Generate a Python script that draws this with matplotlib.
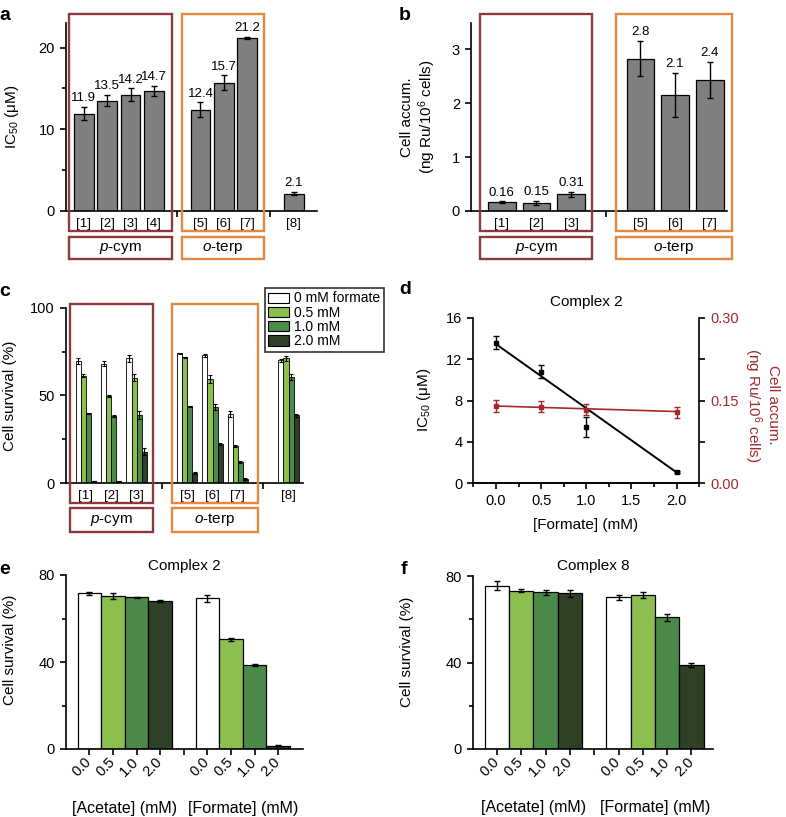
import numpy as np
import matplotlib.pyplot as plt
from matplotlib.patches import Rectangle, Patch
from matplotlib.ticker import MultipleLocator
import matplotlib.transforms as mtrans

plt.rcParams['font.family'] = 'Liberation Sans'
plt.rcParams['mathtext.fontset'] = 'custom'
plt.rcParams['mathtext.rm'] = 'Liberation Sans'
plt.rcParams['mathtext.it'] = 'Liberation Sans:italic'
plt.rcParams['mathtext.bf'] = 'Liberation Sans:bold'
plt.rcParams['axes.linewidth'] = 1.2

# ---- data ----
# a: IC50 of complexes
a_labels = ['[1]', '[2]', '[3]', '[4]', '[5]', '[6]', '[7]', '[8]']
a_groups = [4, 3, 1]
a_ic50 = [11.9, 13.5, 14.2, 14.7, 12.4, 15.7, 21.2, 2.1]
a_err = [0.8, 0.7, 0.8, 0.6, 0.9, 0.9, 0.1, 0.2]

# b: cell accumulation
b_labels = ['[1]', '[2]', '[3]', '[5]', '[6]', '[7]']
b_groups = [3, 3]
b_accum = [0.16, 0.15, 0.31, 2.83, 2.15, 2.43]
b_err = [0.02, 0.04, 0.05, 0.33, 0.41, 0.34]
b_text = ['0.16', '0.15', '0.31', '2.8', '2.1', '2.4']

# c: cell survival with formate
c_labels = ['[1]', '[2]', '[3]', '[5]', '[6]', '[7]', '[8]']
c_groups = [3, 3, 1]
c_series = ['0 mM formate', '0.5 mM', '1.0 mM', '2.0 mM']
c_0mM = [69.6, 68.1, 71.2, 74.0, 72.9, 39.5, 70.0]
c_05mM = [61.3, 49.9, 60.2, 71.9, 59.4, 21.1, 71.2]
c_10mM = [39.8, 38.3, 38.9, 44.0, 43.5, 12.0, 60.5]
c_20mM = [1.3, 1.3, 18.0, 5.9, 22.4, 2.5, 38.7]
c_0mM_err = [1.5, 1.5, 2.0, 0.3, 0.8, 1.5, 1.0]
c_05mM_err = [1.0, 0.6, 2.0, 0.3, 2.5, 0.6, 1.5]
c_10mM_err = [0.4, 0.4, 2.0, 0.3, 1.5, 0.5, 1.5]
c_20mM_err = [0.2, 0.2, 2.0, 0.5, 0.7, 0.5, 1.0]

# d: complex 2 vs formate
d_formate = [0.0, 0.5, 1.0, 2.0]
d_ic50 = [13.6, 10.8, 5.45, 1.05]
d_ic50_err = [0.6, 0.6, 1.0, 0.1]
d_accum = [0.140, 0.139, 0.133, 0.129]
d_accum_err = [0.010, 0.010, 0.010, 0.010]
d_fit_x = [0.0, 2.0]
d_ic50_fit = [13.45, 1.05]
d_accum_fit = [0.140, 0.130]

# e, f: acetate vs formate
ef_conc = ['0.0', '0.5', '1.0', '2.0']
e_acetate = [71.6, 70.3, 69.7, 68.0]
e_acetate_err = [0.6, 1.2, 0.4, 0.5]
e_formate = [69.3, 50.4, 38.8, 1.5]
e_formate_err = [1.5, 0.8, 0.5, 0.2]
f_acetate = [75.5, 73.2, 72.4, 72.0]
f_acetate_err = [2.0, 0.7, 1.2, 1.5]
f_formate = [70.1, 71.3, 60.9, 38.8]
f_formate_err = [1.0, 1.5, 1.5, 1.0]

# ---- style ----
W, H = 786, 817
GRAY = '#7f7f7f'
GREENS = ['white', '#8cbf4f', '#4b8a48', '#2e4025']
BOXRED = '#8b3a3e'
BOXORANGE = '#e2893f'
RED = '#a3292c'
TICK = 10.5
LAB = 11

fig = plt.figure(figsize=(W / 100, H / 100), dpi=100)


def add_ax(x0, y0, x1, y1):
    return fig.add_axes([x0 / W, 1 - y1 / H, (x1 - x0) / W, (y1 - y0) / H])


def ftext(x, y, s, **kw):
    fig.text(x / W, 1 - y / H, s, **kw)


def fbox(x0, y0, x1, y1, color):
    fig.add_artist(Rectangle((x0 / W, 1 - y1 / H), (x1 - x0) / W, (y1 - y0) / H,
                             transform=fig.transFigure, fill=False, ec=color, lw=1.7))


def group_pos(sizes):
    pos, gaps, p = [], [], 0
    for i, n in enumerate(sizes):
        pos += list(range(p, p + n))
        p += n
        if i < len(sizes) - 1:
            gaps.append(p)
        p += 1
    return np.array(pos, float), gaps


def style(ax):
    ax.spines['top'].set_visible(False)
    ax.spines['right'].set_visible(False)
    ax.tick_params(axis='y', which='both', direction='out', width=1.2, labelsize=TICK)
    ax.tick_params(axis='y', which='major', length=4.5)
    ax.tick_params(axis='y', which='minor', length=3)


def cat_axis(ax, pos, labels, gaps):
    ax.set_xticks(pos)
    ax.set_xticklabels(labels, fontsize=9.5)
    ax.tick_params(axis='x', which='major', length=0, pad=5)
    ax.set_xticks(gaps, minor=True)
    ax.tick_params(axis='x', which='minor', direction='out', length=4, width=1.2)


def group_boxes(xs, y0, y1, ly0, ly1):
    names = ['$p$-cym', '$o$-terp']
    for (x0, x1), col, name in zip(xs, [BOXRED, BOXORANGE], names):
        fbox(x0, y0, x1, y1, col)
        fbox(x0, ly0, x1, ly1, col)
        ftext((x0 + x1) / 2, (ly0 + ly1) / 2, name, ha='center', va='center', fontsize=11)


err_kw = dict(elinewidth=1.0, capthick=1.0)

# ---- panel a ----
ax = add_ax(66, 23, 317, 211)
style(ax)
pos, gaps = group_pos(a_groups)
ax.bar(pos, a_ic50, 0.85, color=GRAY, ec='black', lw=0.9, yerr=a_err, capsize=2.2, error_kw=err_kw)
for x, v, e in zip(pos, a_ic50, a_err):
    ax.annotate(f'{v}', (x, v + e), xytext=(0, 2), textcoords='offset points',
                ha='center', va='bottom', fontsize=9.5)
ax.set_xlim(-0.77, 10)
ax.set_ylim(0, 23)
ax.set_yticks([0, 10, 20])
ax.yaxis.set_minor_locator(MultipleLocator(5))
cat_axis(ax, pos, a_labels, gaps)
group_boxes([(69, 172), (182, 264)], 14, 231, 237, 259)
ftext(12, 117, r'IC$_{50}$ (μM)', rotation=90, ha='center', va='center', fontsize=LAB)

# ---- panel b ----
ax = add_ax(471, 23, 727, 211)
style(ax)
pos, gaps = group_pos(b_groups)
ax.bar(pos, b_accum, 0.8, color=GRAY, ec='black', lw=0.9, yerr=b_err, capsize=2.2, error_kw=err_kw)
for x, v, e, t in zip(pos, b_accum, b_err, b_text):
    ax.annotate(t, (x, v + e), xytext=(0, 2), textcoords='offset points',
                ha='center', va='bottom', fontsize=9.5)
ax.set_xlim(-0.89, 6.5)
ax.set_ylim(0, 3.49)
ax.set_yticks([0, 1, 2, 3])
cat_axis(ax, pos, b_labels, gaps)
group_boxes([(480, 592), (616, 732)], 14, 231, 237, 259)
ftext(419, 117, 'Cell accum.\n(ng Ru/10$^6$ cells)', rotation=90, ha='center', va='center',
      fontsize=LAB, linespacing=1.1)

# ---- panel c ----
ax = add_ax(65.7, 307.7, 302.7, 483.3)
style(ax)
pos, gaps = group_pos(c_groups)
c_vals = [c_0mM, c_05mM, c_10mM, c_20mM]
c_errs = [c_0mM_err, c_05mM_err, c_10mM_err, c_20mM_err]
w = 0.2
for k, (vals, errs) in enumerate(zip(c_vals, c_errs)):
    ax.bar(pos + (k - 1.5) * w, vals, w, color=GREENS[k], ec='black', lw=0.6,
           yerr=errs, capsize=1.5, error_kw=dict(elinewidth=0.8, capthick=0.8))
ax.set_xlim(-0.8, 8.56)
ax.set_ylim(0, 100)
ax.set_yticks([0, 50, 100])
ax.yaxis.set_minor_locator(MultipleLocator(25))
cat_axis(ax, pos, c_labels, gaps)
group_boxes([(70, 153), (172, 258)], 304, 503, 508, 532)
ftext(10, 396, 'Cell survival (%)', rotation=90, ha='center', va='center', fontsize=LAB)
handles = [Patch(fc=GREENS[k], ec='black', lw=0.8) for k in range(4)]
leg = fig.legend(handles, c_series, loc='upper left', bbox_to_anchor=(265 / W, 1 - 288 / H),
                 fontsize=10, frameon=True, fancybox=False, edgecolor='black',
                 handlelength=1.5, handleheight=0.75, handletextpad=0.35,
                 labelspacing=0.02, borderpad=0.25, borderaxespad=0)
leg.get_frame().set_linewidth(1.2)

# ---- panel d ----
ax = add_ax(473.4, 317.7, 699.2, 483.3)
ax.spines['top'].set_visible(False)
ax.spines['right'].set_visible(False)
ax.errorbar(d_formate, d_ic50, yerr=d_ic50_err, fmt='s', color='black', ms=3.2,
            capsize=2.2, elinewidth=1.0, capthick=1.0, zorder=3)
ax.plot(d_fit_x, d_ic50_fit, color='black', lw=1.4, zorder=2)
ax.set_xlim(-0.25, 2.25)
ax.set_ylim(0, 16)
ax.set_yticks([0, 4, 8, 12, 16])
ax.set_xticks([0, 0.5, 1.0, 1.5, 2.0])
ax.set_xticklabels(['0.0', '0.5', '1.0', '1.5', '2.0'])
ax.xaxis.set_minor_locator(MultipleLocator(0.25))
ax.tick_params(which='both', direction='out', width=1.2, labelsize=TICK)
ax.tick_params(which='major', length=4.5)
ax.tick_params(which='minor', length=3)
ax2 = ax.twinx()
ax2.spines['top'].set_visible(False)
ax2.spines['left'].set_visible(False)
ax2.errorbar(d_formate, d_accum, yerr=d_accum_err, fmt='s', color=RED, ms=3.2,
             capsize=2.2, elinewidth=1.0, capthick=1.0, zorder=3)
ax2.plot(d_fit_x, d_accum_fit, color=RED, lw=1.2, zorder=2)
ax2.set_ylim(0, 0.30)
ax2.set_yticks([0, 0.15, 0.30])
ax2.set_yticklabels(['0.00', '0.15', '0.30'])
ax2.yaxis.set_minor_locator(MultipleLocator(0.075))
ax2.tick_params(which='both', direction='out', width=1.2, labelsize=TICK, labelcolor=RED)
ax2.tick_params(which='major', length=4.5)
ax2.tick_params(which='minor', length=4.5)
ftext(586, 302, 'Complex 2', ha='center', va='center', fontsize=LAB)
ftext(586, 525, '[Formate] (mM)', ha='center', va='center', fontsize=LAB)
ftext(424, 400, r'IC$_{50}$ (μM)', rotation=90, ha='center', va='center', fontsize=LAB)
ftext(761, 405, 'Cell accum.\n(ng Ru/10$^6$ cells)', rotation=270, ha='center', va='center',
      fontsize=LAB, color=RED, linespacing=1.1)


# ---- panels e, f ----
def survival_panel(box, acetate, acetate_err, formate, formate_err, title, xmax):
    ax = add_ax(*box)
    style(ax)
    pos, gaps = group_pos([4, 4])
    vals = acetate + formate
    errs = acetate_err + formate_err
    ax.bar(pos, vals, 1.0, color=GREENS * 2, ec='black', lw=0.9, yerr=errs,
           capsize=2.2, error_kw=err_kw)
    ax.set_xlim(-1.0, xmax)
    ax.set_ylim(0, 80)
    ax.set_yticks([0, 40, 80])
    ax.yaxis.set_minor_locator(MultipleLocator(20))
    ax.set_xticks(pos)
    ax.set_xticklabels(ef_conc * 2, rotation=45, ha='right', va='center',
                       rotation_mode='anchor', fontsize=TICK)
    ax.set_xticks(gaps, minor=True)
    ax.tick_params(axis='x', which='both', direction='out', length=4, width=1.2, pad=4)
    tr = mtrans.blended_transform_factory(ax.transData, ax.transAxes)
    ax.text(pos[:4].mean(), -0.34, '[Acetate] (mM)', transform=tr, ha='center', va='center', fontsize=11.5)
    ax.text(pos[4:].mean(), -0.34, '[Formate] (mM)', transform=tr, ha='center', va='center', fontsize=11.5)
    x0, y0, x1, y1 = box
    ftext((x0 + x1) / 2, 566, title, ha='center', va='center', fontsize=LAB)
    return ax


survival_panel((65.7, 575, 302.7, 749), e_acetate, e_acetate_err, e_formate, e_formate_err,
               'Complex 2', 9.04)
ftext(10, 650, 'Cell survival (%)', rotation=90, ha='center', va='center', fontsize=LAB)
survival_panel((472.7, 576, 713.3, 749), f_acetate, f_acetate_err, f_formate, f_formate_err,
               'Complex 8', 8.9)
ftext(407, 652, 'Cell survival (%)', rotation=90, ha='center', va='center', fontsize=LAB)

# panel letters
for x, y, s in [(5, 16, 'a'), (405, 16, 'b'), (5, 291, 'c'), (405, 289, 'd'),
                (5, 570, 'e'), (404, 569, 'f')]:
    ftext(x, y, s, ha='center', va='center', fontsize=14, fontweight='bold')

fig.savefig('out.png', dpi=100)
